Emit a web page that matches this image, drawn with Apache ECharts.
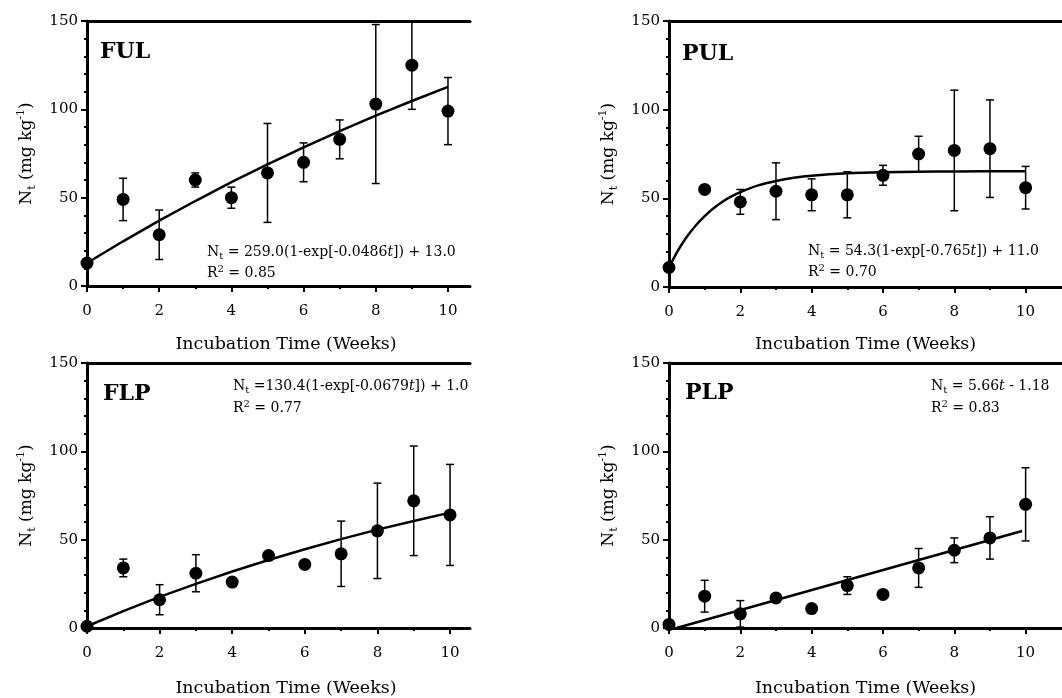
<!DOCTYPE html>
<html>
<head>
<meta charset="utf-8">
<script src="https://cdn.jsdelivr.net/npm/echarts@6/dist/echarts.min.js"></script>
<style>html,body{margin:0;padding:0;background:#fff}#c{width:1062px;height:698px}</style>
</head>
<body>
<div id="c"></div>
<script>
// ---- data ----
const weeks = [0, 1, 2, 3, 4, 5, 6, 7, 8, 9, 10];
const xTickLabels = [0, 2, 4, 6, 8, 10];
const xMinorTicks = [1, 3, 5, 7, 9];
const yTickLabels = [0, 50, 100, 150];

const fulMean = [13, 49, 29, 60, 50, 64, 70, 83, 103, 125, 99];
const fulErr  = [0, 12, 14, 4, 6, 28, 11, 11, 45, 25, 19];
const fulFitT = [0, 1, 2, 3, 4, 5, 6, 7, 8, 9, 10];
const fulFit  = [13.0, 25.3, 37.0, 48.1, 58.8, 68.9, 78.5, 87.7, 96.4, 104.7, 112.7];

const pulMean = [11, 55, 48, 54, 52, 52, 63, 75, 77, 78, 56];
const pulErr  = [0, 0, 7, 16, 9, 13, 5.6, 10, 34, 27.5, 12];
const pulFitT = [0, 0.25, 0.5, 0.75, 1, 1.25, 1.5, 1.75, 2, 2.5, 3, 3.5, 4, 5, 6, 7, 8, 10];
const pulFit  = [11.0, 20.5, 28.3, 34.7, 40.0, 44.4, 48.1, 51.1, 53.5, 57.3, 59.8, 61.6, 62.8, 64.1, 64.7, 65.0, 65.2, 65.3];

const flpMean = [1, 34, 16, 31, 26, 41, 36, 42, 55, 72, 64];
const flpErr  = [0, 5, 8.5, 10.5, 0, 1, 0, 18.5, 27, 31, 28.6];
const flpFitT = [0, 1, 2, 3, 4, 5, 6, 7, 8, 9, 10];
const flpFit  = [1.0, 9.6, 17.6, 25.0, 32.0, 38.5, 44.6, 50.3, 55.7, 60.6, 65.3];

const plpMean = [2, 18, 8, 17, 11, 24, 19, 34, 44, 51, 70];
const plpErr  = [0, 9, 7.5, 1, 2, 5, 0, 11, 7, 12, 20.7];
const plpFitT = [0.21, 9.9];
const plpFit  = [0, 54.9];

const panelNames = ['FUL', 'PUL', 'FLP', 'PLP'];
const r2Values = ['0.85', '0.70', '0.77', '0.83'];
const xAxisTitle = 'Incubation Time (Weeks)';

// ---- layout / styling ----
const FONT = '"DejaVu Serif", serif';
const panels = [
  {mean: fulMean, err: fulErr, fitT: fulFitT, fit: fulFit, grid: {left: 87, top: 21, width: 383, height: 265}, xMax: 10.61, nameShift: 15, nameGap: 49},
  {mean: pulMean, err: pulErr, fitT: pulFitT, fit: pulFit, grid: {left: 669, top: 21, width: 393, height: 266}, xMax: 11.02, nameShift: 0, nameGap: 48},
  {mean: flpMean, err: flpErr, fitT: flpFitT, fit: flpFit, grid: {left: 87, top: 363, width: 383, height: 266}, xMax: 10.55, nameShift: 15, nameGap: 51},
  {mean: plpMean, err: plpErr, fitT: plpFitT, fit: plpFit, grid: {left: 669, top: 363, width: 393, height: 266}, xMax: 11.02, nameShift: 0, nameGap: 51}
];

const richBase = {
  a: {fontFamily: FONT, fontSize: 17, color: '#000', lineHeight: 22, verticalAlign: 'middle'},
  sub: {fontFamily: FONT, fontSize: 11, color: '#000', lineHeight: 13, verticalAlign: 'bottom'},
  sup: {fontFamily: FONT, fontSize: 11, color: '#000', lineHeight: 11, verticalAlign: 'top'}
};
const eqRich = {
  a: {fontFamily: FONT, fontSize: 14, fill: '#000', lineHeight: 18, verticalAlign: 'middle'},
  i: {fontFamily: FONT, fontSize: 14, fill: '#000', lineHeight: 18, verticalAlign: 'middle', fontStyle: 'italic'},
  sub: {fontFamily: FONT, fontSize: 10, fill: '#000', lineHeight: 11, verticalAlign: 'bottom'},
  sup: {fontFamily: FONT, fontSize: 10, fill: '#000', lineHeight: 10, verticalAlign: 'top'}
};

const grids = [], xAxes = [], yAxes = [], series = [];
panels.forEach((p, k) => {
  grids.push(Object.assign({containLabel: false}, p.grid));
  xAxes.push({
    type: 'value', gridIndex: k, min: 0, max: p.xMax, position: 'bottom',
    axisLine: {onZero: false, lineStyle: {color: '#000', width: 3}},
    axisTick: {customValues: xTickLabels, length: 6, lineStyle: {color: '#000', width: 2}},
    axisLabel: {customValues: xTickLabels, margin: 18, color: '#000', fontSize: 15, fontFamily: FONT},
    splitLine: {show: false},
    name: xAxisTitle, nameLocation: 'middle', nameGap: p.nameGap,
    nameTextStyle: {color: '#000', fontSize: 17.5, fontFamily: FONT, padding: [0, 0, 0, p.nameShift]}
  });
  xAxes.push({
    type: 'value', gridIndex: k, min: 0, max: p.xMax, position: 'bottom',
    axisLine: {show: false, onZero: false},
    axisTick: {customValues: xMinorTicks, length: 3, lineStyle: {color: '#000', width: 2}},
    axisLabel: {show: false}, splitLine: {show: false}
  });
  xAxes.push({
    type: 'value', gridIndex: k, min: 0, max: p.xMax, position: 'top',
    axisLine: {onZero: false, lineStyle: {color: '#000', width: 3}},
    axisTick: {show: false}, axisLabel: {show: false}, splitLine: {show: false}
  });
  yAxes.push({
    type: 'value', gridIndex: k, min: 0, max: 150, interval: 50,
    axisLine: {onZero: false, lineStyle: {color: '#000', width: 3}},
    axisTick: {length: 6, lineStyle: {color: '#000', width: 2}},
    minorTick: {show: true, splitNumber: 5, length: 3, lineStyle: {color: '#000', width: 2}},
    axisLabel: {margin: 9, color: '#000', fontSize: 15, fontFamily: FONT,
      formatter: v => (yTickLabels.indexOf(v) >= 0 ? String(v) : '')},
    splitLine: {show: false},
    name: '{a|N}{sub|t}{a| (mg kg}{sup|-1}{a|)}', nameLocation: 'middle', nameRotate: 90, nameGap: 49,
    nameTextStyle: {rich: richBase}
  });
  const xi = 3 * k;
  series.push({
    type: 'custom', xAxisIndex: xi, yAxisIndex: k, clip: true, z: 2,
    data: weeks.map((w, i) => [w, p.mean[i] - p.err[i], p.mean[i] + p.err[i]]).filter(d => d[2] > d[1]),
    renderItem(params, api) {
      const x = api.value(0);
      const lo = api.coord([x, api.value(1)]);
      const hi = api.coord([x, api.value(2)]);
      const hw = 4;
      const st = {stroke: '#000', lineWidth: 1.5};
      return {type: 'group', children: [
        {type: 'line', shape: {x1: lo[0], y1: lo[1], x2: hi[0], y2: hi[1]}, style: st},
        {type: 'line', shape: {x1: lo[0] - hw, y1: lo[1], x2: lo[0] + hw, y2: lo[1]}, style: st},
        {type: 'line', shape: {x1: hi[0] - hw, y1: hi[1], x2: hi[0] + hw, y2: hi[1]}, style: st}
      ]};
    }
  });
  series.push({
    type: 'line', xAxisIndex: xi, yAxisIndex: k, z: 3, symbol: 'none', smooth: k === 1 ? 0.3 : false,
    lineStyle: {color: '#000', width: 2.5},
    data: p.fitT.map((t, i) => [t, p.fit[i]])
  });
  series.push({
    type: 'scatter', xAxisIndex: xi, yAxisIndex: k, z: 4, clip: false, symbolSize: 13,
    itemStyle: {color: '#000', opacity: 1},
    data: weeks.map((w, i) => [w, p.mean[i]])
  });
});

function label(txt, x, y) {
  return {type: 'text', x: x, y: y, z: 10,
    style: {text: txt, fill: '#000', font: 'bold 22px ' + FONT, verticalAlign: 'middle', align: 'left'}};
}
function eq(txt, x, y) {
  return {type: 'text', x: x, y: y, z: 10,
    style: {text: txt, rich: eqRich, fill: '#000', font: '14px ' + FONT, verticalAlign: 'middle', align: 'left'}};
}

const graphics = [
  label(panelNames[0], 100, 52),
  label(panelNames[1], 682, 54),
  label(panelNames[2], 103, 394),
  label(panelNames[3], 685, 393),
  eq('{a|N}{sub|t}{a| = 259.0(1-exp[-0.0486}{i|t}{a|]) + 13.0}', 207, 252),
  eq('{a|R}{sup|2}{a| = ' + r2Values[0] + '}', 207, 273),
  eq('{a|N}{sub|t}{a| = 54.3(1-exp[-0.765}{i|t}{a|]) + 11.0}', 808, 251),
  eq('{a|R}{sup|2}{a| = ' + r2Values[1] + '}', 808, 272),
  eq('{a|N}{sub|t}{a| =130.4(1-exp[-0.0679}{i|t}{a|]) + 1.0}', 233, 386),
  eq('{a|R}{sup|2}{a| = ' + r2Values[2] + '}', 233, 408),
  eq('{a|N}{sub|t}{a| = 5.66}{i|t}{a| - 1.18}', 931, 386),
  eq('{a|R}{sup|2}{a| = ' + r2Values[3] + '}', 931, 408)
];

const chart = echarts.init(document.getElementById('c'), null, {renderer: 'canvas'});
chart.setOption({
  backgroundColor: '#fff',
  animation: false,
  grid: grids,
  xAxis: xAxes,
  yAxis: yAxes,
  series: series,
  graphic: graphics
});
</script>
</body>
</html>
